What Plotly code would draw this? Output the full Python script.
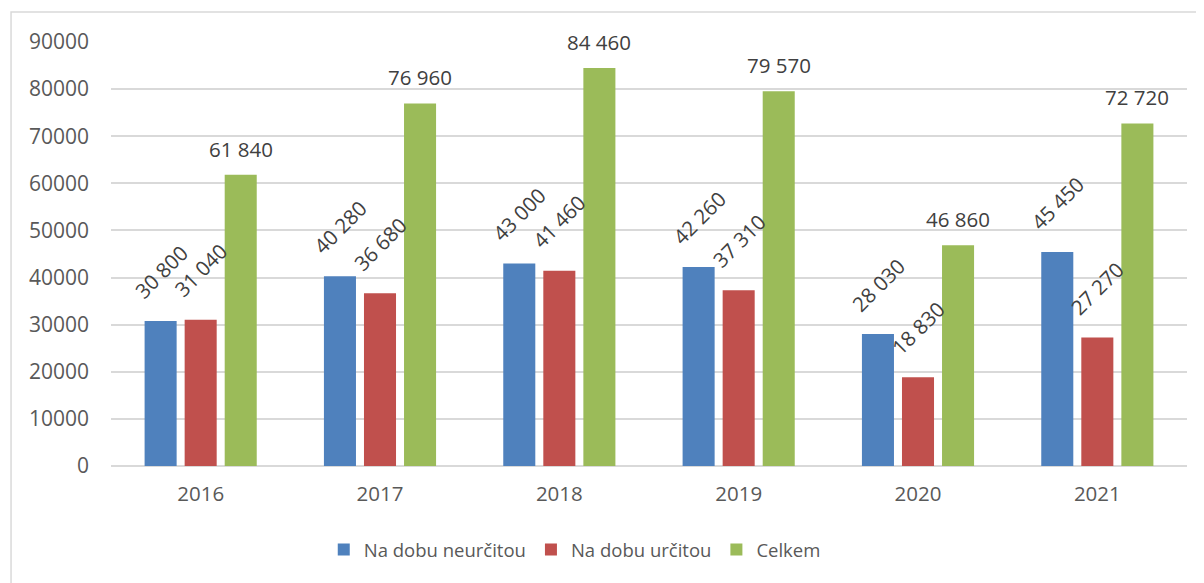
import plotly.graph_objects as go

years = ["2016", "2017", "2018", "2019", "2020", "2021"]
neurcitou = [30800, 40280, 43000, 42260, 28030, 45450]
urcitou = [31040, 36680, 41460, 37310, 18830, 27270]
celkem = [61840, 76960, 84460, 79570, 46860, 72720]
y_ticks = [0, 10000, 20000, 30000, 40000, 50000, 60000, 70000, 80000, 90000]

FONT = "Open Sans"
TXT = "#595959"
LBL = "#404040"
GRID = "#d9d9d9"

W, H = 1196, 575
ML, MR, MT, MB = 103, 17, 34, 117
BARGAP = 0.33

series = [
    ("Na dobu neurčitou", neurcitou, "#4f81bd", -45),
    ("Na dobu určitou", urcitou, "#c0504d", -45),
    ("Celkem", celkem, "#9bbb59", 0),
]

fig = go.Figure()
for name, vals, color, ang in series:
    fig.add_trace(go.Bar(
        x=years, y=vals, name=name,
        marker=dict(color=color, line=dict(width=0)),
        cliponaxis=False,
    ))

# data labels placed over each bar (slot offset derived from the bar layout)
cat_w = (W - ML - MR) / len(years)
slot = (1 - BARGAP) * cat_w / len(series)
annotations = []
for i, (name, vals, color, ang) in enumerate(series):
    off = (i - (len(series) - 1) / 2) * slot
    for j, v in enumerate(vals):
        annotations.append(dict(
            x=j, y=v, xref="x", yref="y", xshift=off, yshift=10 if ang == 0 else 14,
            text=f"{v:,}".replace(",", " "), showarrow=False, textangle=ang,
            xanchor="center", yanchor="bottom",
            font=dict(family=FONT, size=20.5, color=LBL),
        ))

fig.update_layout(
    width=W, height=H,
    margin=dict(l=ML, r=MR, t=MT, b=MB, autoexpand=False),
    paper_bgcolor="white", plot_bgcolor="white",
    barmode="group", bargap=BARGAP, bargroupgap=0.2,
    font=dict(family=FONT, size=19.5, color=TXT),
    legend=dict(orientation="h", xanchor="center", yanchor="middle",
                x=0.431, y=-0.198, font=dict(family=FONT, size=18.5, color=TXT),
                itemwidth=30, traceorder="normal"),
    showlegend=True,
    annotations=annotations,
    shapes=[dict(type="rect", xref="paper", yref="paper",
                 x0=-0.0929, x1=1.2, y0=-0.6, y1=1.0708,
                 line=dict(color=GRID, width=1.5), layer="below")],
)
fig.update_xaxes(type="category", range=[-0.5, len(years) - 0.5],
                 showgrid=False, showline=False, ticks="", automargin=False,
                 ticklabelstandoff=13, tickfont=dict(family=FONT, size=20.5, color=TXT))
fig.update_yaxes(range=[0, 90000], tickvals=y_ticks, tickformat="d", automargin=False,
                 showgrid=True, gridcolor=GRID, gridwidth=1.5,
                 zeroline=True, zerolinecolor=GRID, zerolinewidth=1.5,
                 showline=False, ticks="", ticklabelstandoff=21,
                 tickfont=dict(family=FONT, size=21, color=TXT))

fig.write_html("out.html")
